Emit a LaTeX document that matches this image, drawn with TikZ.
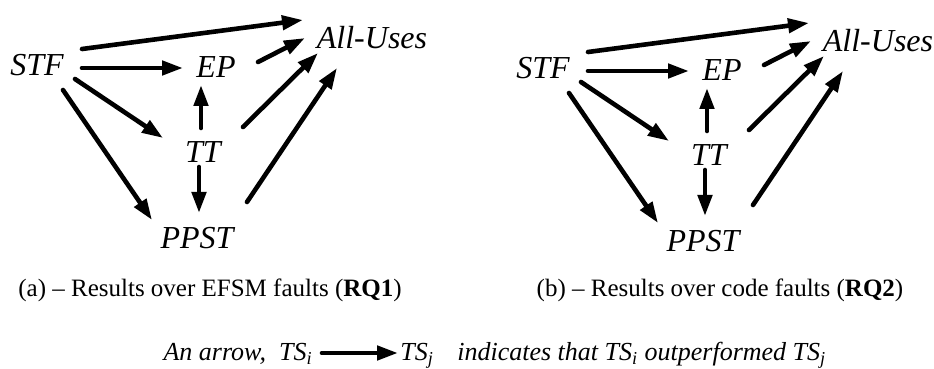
\documentclass[tikz,border=0pt]{standalone}
\usepackage{fontspec}
\setmainfont{Liberation Serif}
\usetikzlibrary{arrows.meta}

\begin{document}
\begin{tikzpicture}[
  x=0.5pt, y=-0.5pt,
  label/.style={inner sep=0pt, font=\fontsize{16}{19}\selectfont\itshape},
  caption/.style={inner sep=0pt, anchor=base, font=\fontsize{12.5}{15}\selectfont},
  key/.style={inner sep=0pt, font=\fontsize{13}{16}\selectfont\itshape},
  arr/.style={line width=2.3pt, line cap=round, -{Triangle[length=10.5pt, width=7pt]}}
]
\useasboundingbox (0,0) rectangle (934,369);

% the two result graphs
\foreach \p/\dx/\dy in {a/0/0, b/506/3} {
  \begin{scope}[shift={(\dx,\dy)}]
    \node [label] (\p-stf) at (37,65) {STF};
    \node [label] (\p-ep) at (216,67) {EP};
    \node [label] (\p-all) at (372,38) {All-Uses};
    \node [label] (\p-tt) at (203,152) {TT};
    \node [label] (\p-ppst) at (197,238) {PPST};

    \draw [arr] ([shift={(45,-16)}]\p-stf.center) -- ([shift={(-69,-18)}]\p-all.center);
    \draw [arr] ([shift={(45,3)}]\p-stf.center) -- ([shift={(-33,1)}]\p-ep.center);
    \draw [arr] ([shift={(42,-5)}]\p-ep.center) -- ([shift={(-67,0)}]\p-all.center);
    \draw [arr] ([shift={(38,14)}]\p-stf.center) -- ([shift={(-40,-14)}]\p-tt.center);
    \draw [arr] ([shift={(26,25)}]\p-stf.center) -- ([shift={(-45,-18)}]\p-ppst.center);
    \draw [arr] ([shift={(-2,-24)}]\p-tt.center) -- ([shift={(-15,18)}]\p-ep.center);
    \draw [arr] ([shift={(-4,15)}]\p-tt.center) -- ([shift={(2,-25)}]\p-ppst.center);
    \draw [arr] ([shift={(40,-25)}]\p-tt.center) -- ([shift={(-54,15)}]\p-all.center);
    \draw [arr] ([shift={(50,-36)}]\p-ppst.center) -- ([shift={(-35,30)}]\p-all.center);
  \end{scope}
}

\node [caption] (a-cap) at (210,297) {(a) -- Results over EFSM faults (\textbf{RQ1})};
\node [caption] (b-cap) at (720,297) {(b) -- Results over code faults (\textbf{RQ2})};

% legend
\node [key, anchor=base east] (key-i) at (313,361) {An arrow,\ \ TS\textsubscript{i}};
\node [key, anchor=base west] (key-j) at (400,361)
  {TS\textsubscript{j}\hspace{0.9em}indicates that TS\textsubscript{i} outperformed TS\textsubscript{j}};
\draw [arr] ([shift={(9,-8)}]key-i.base east) -- ([shift={(-2,-8)}]key-j.base west);
\end{tikzpicture}
\end{document}
